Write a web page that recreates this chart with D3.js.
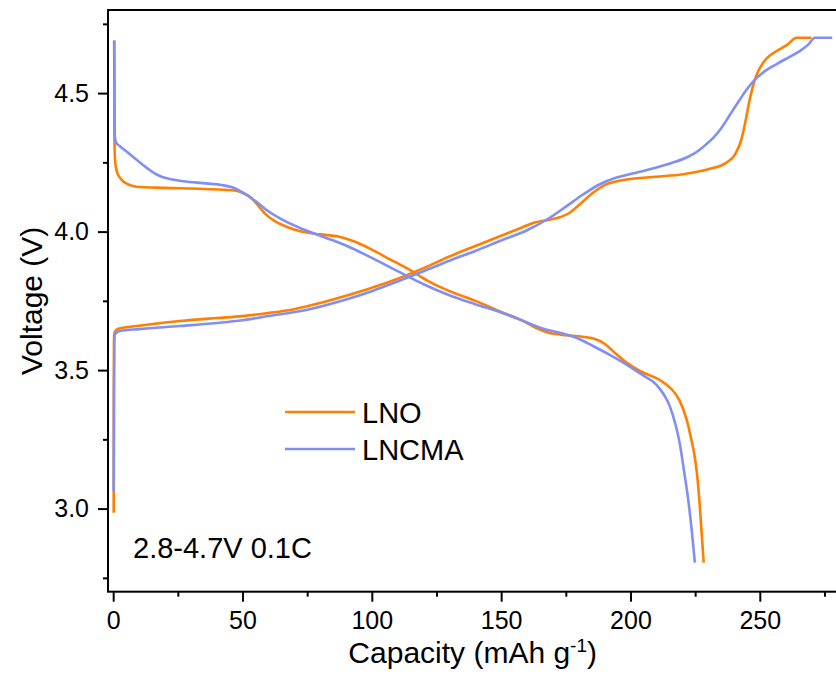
<!DOCTYPE html>
<html>
<head>
<meta charset="utf-8">
<script src="https://cdn.jsdelivr.net/npm/d3@7"></script>
<style>
  body { margin: 0; background: #fff; }
  svg { display: block; font-family: "Liberation Sans", Arial, sans-serif; }
</style>
</head>
<body>
<svg id="chart"></svg>
<script>
// capacity (mAh/g), voltage (V)
const lnoDischarge = [
  [0.4, 4.69], [0.45, 4.45], [0.5, 4.33], [0.8, 4.25], [1.5, 4.215], [3, 4.19],
  [6, 4.17], [9, 4.162], [20, 4.158], [35, 4.154], [46, 4.149], [50, 4.14],
  [53, 4.125], [56, 4.095], [59, 4.062], [63, 4.035], [68, 4.014], [72, 4.002],
  [80, 3.99], [87, 3.982], [93, 3.965], [100, 3.935], [107, 3.9], [115, 3.86],
  [122, 3.82], [130, 3.785], [140, 3.75], [150, 3.71], [158, 3.68], [164, 3.65],
  [168, 3.636], [173, 3.628], [180, 3.622], [186, 3.613], [190, 3.595],
  [194, 3.562], [198.5, 3.527], [204, 3.495], [211, 3.466], [216, 3.43],
  [219, 3.39], [221.7, 3.322], [223.5, 3.25], [225, 3.178], [226, 3.1],
  [226.8, 3.009], [227.6, 2.9], [228.3, 2.805]
];
const lncmaDischarge = [
  [0.4, 4.69], [0.5, 4.5], [0.6, 4.345], [1.2, 4.32], [2.5, 4.309], [6, 4.283],
  [10, 4.252], [13, 4.23], [16, 4.21], [19, 4.197], [23, 4.188], [27, 4.182],
  [36, 4.174], [42, 4.168], [46, 4.16], [50, 4.142], [55, 4.11], [59, 4.08],
  [65, 4.045], [72, 4.014], [80, 3.985], [90, 3.95], [100, 3.905], [110, 3.857],
  [120, 3.81], [130, 3.77], [140, 3.738], [150, 3.708], [160, 3.672], [166, 3.65],
  [172.6, 3.635], [179, 3.617], [185.5, 3.587], [192, 3.555], [198.5, 3.52],
  [205, 3.48], [210, 3.448], [213, 3.41], [215.2, 3.37], [217.5, 3.3],
  [219, 3.238], [220.8, 3.13], [222.3, 3.033], [223.7, 2.92], [224.9, 2.805]
];
const lnoCharge = [
  [0.2, 2.985], [0.25, 3.3], [0.3, 3.6], [0.5, 3.635], [1.9, 3.649], [10, 3.66],
  [25.7, 3.677], [40, 3.688], [50, 3.695], [60, 3.706], [70, 3.72], [80, 3.742],
  [90, 3.768], [100, 3.797], [110, 3.83], [120, 3.868], [130, 3.91], [140, 3.948],
  [150, 3.985], [158, 4.015], [163, 4.033], [168.8, 4.043], [172, 4.05],
  [176.5, 4.068], [180, 4.095], [185.5, 4.14], [190, 4.168], [194, 4.18],
  [198.5, 4.188], [210, 4.198], [220.3, 4.207], [230, 4.225], [237.1, 4.249],
  [240.5, 4.28], [242.9, 4.333], [244.5, 4.4], [246.1, 4.477], [248.5, 4.56],
  [251.3, 4.61], [253.8, 4.635], [256.5, 4.652], [260.3, 4.672], [264.2, 4.7],
  [270, 4.7]
];
const lncmaCharge = [
  [0.2, 3.063], [0.3, 3.4], [0.6, 3.629], [2.5, 3.641], [10, 3.648],
  [25.7, 3.659], [40, 3.67], [50, 3.68], [60, 3.695], [75, 3.718], [90, 3.755],
  [100, 3.785], [110, 3.82], [120, 3.857], [130, 3.895], [140, 3.93],
  [150, 3.968], [160, 4.005], [168.8, 4.05], [175, 4.09], [181.7, 4.134],
  [188, 4.17], [194.6, 4.195], [200, 4.208], [207.5, 4.225], [215, 4.245],
  [222.9, 4.273], [226, 4.29], [229, 4.313], [232, 4.338], [235, 4.372],
  [238, 4.415], [242.3, 4.477], [245.5, 4.52], [248.7, 4.554], [252.5, 4.583],
  [256.5, 4.605], [260, 4.623], [263, 4.638], [266, 4.655], [268.8, 4.676],
  [271.3, 4.7], [278, 4.7]
];

const seriesNames = ["LNO", "LNCMA"];
const seriesColors = ["#ff7f00", "#7f8ff5"];

const xMajorTicks = [0, 50, 100, 150, 200, 250];
const xMinorTicks = [25, 75, 125, 175, 225, 275];
const yMajorTicks = [3.0, 3.5, 4.0, 4.5];
const yMinorTicks = [2.75, 3.25, 3.75, 4.25, 4.75];

showChart();

function showChart() {
  let config = getConfig();
  let scales = getScales(config);
  drawAxes(scales, config);
  drawLines(scales, config);
  drawLegend(config);
}

function getConfig() {
  let width = 836;
  let height = 674;
  let margin = { top: 10, bottom: 82.3, left: 108, right: -1.4 };
  let bodyWidth = width - margin.left - margin.right;
  let bodyHeight = height - margin.top - margin.bottom;
  let container = d3.select("#chart").attr("width", width).attr("height", height);
  return { width, height, margin, bodyWidth, bodyHeight, container };
}

function getScales({ margin, bodyWidth, bodyHeight }) {
  let xScale = d3.scaleLinear()
    .domain([-2, 280])
    .range([margin.left, margin.left + bodyWidth]);
  let yScale = d3.scaleLinear()
    .domain([2.7, 4.8])
    .range([margin.top + bodyHeight, margin.top]);
  return { xScale, yScale };
}

function drawAxes({ xScale, yScale }, { margin, bodyWidth, bodyHeight, container }) {
  let bottom = margin.top + bodyHeight;
  let fmt = d3.format(".1f");

  let styleAxis = (g) => {
    g.select(".domain").remove();
    g.selectAll("line").attr("stroke", "#000").attr("stroke-width", 2);
    g.selectAll("text").attr("fill", "#000").style("font-size", "25px");
  };

  container.append("g")
    .attr("transform", `translate(0,${bottom})`)
    .call(d3.axisBottom(xScale).tickValues(xMajorTicks).tickSize(10).tickPadding(10))
    .call(styleAxis);
  container.append("g")
    .attr("transform", `translate(0,${bottom})`)
    .call(d3.axisBottom(xScale).tickValues(xMinorTicks).tickSize(5).tickFormat(""))
    .call(styleAxis);

  container.append("g")
    .attr("transform", `translate(${margin.left},0)`)
    .call(d3.axisLeft(yScale).tickValues(yMajorTicks).tickSize(10).tickPadding(9).tickFormat(fmt))
    .call(styleAxis);
  container.append("g")
    .attr("transform", `translate(${margin.left},0)`)
    .call(d3.axisLeft(yScale).tickValues(yMinorTicks).tickSize(5).tickFormat(""))
    .call(styleAxis);

  // frame
  container.append("rect")
    .attr("x", margin.left)
    .attr("y", margin.top)
    .attr("width", bodyWidth)
    .attr("height", bodyHeight)
    .attr("fill", "none")
    .attr("stroke", "#000")
    .attr("stroke-width", 2);

  let xTitle = container.append("text")
    .attr("x", margin.left + bodyWidth / 2)
    .attr("y", 663)
    .attr("text-anchor", "middle")
    .style("font-size", "30px");
  xTitle.append("tspan").text("Capacity (mAh g");
  xTitle.append("tspan").attr("dy", -11).style("font-size", "19px").text("-1");
  xTitle.append("tspan").attr("dy", 11).text(")");

  container.append("text")
    .attr("transform", `translate(42,${margin.top + bodyHeight / 2}) rotate(-90)`)
    .attr("text-anchor", "middle")
    .style("font-size", "30px")
    .text("Voltage (V)");

  container.append("text")
    .attr("x", 133)
    .attr("y", 558)
    .style("font-size", "29px")
    .text("2.8-4.7V 0.1C");
}

function drawLines({ xScale, yScale }, { container }) {
  let line = d3.line()
    .x((d) => xScale(d[0]))
    .y((d) => yScale(d[1]))
    .curve(d3.curveMonotoneX);

  let curves = [
    { data: lnoDischarge, color: seriesColors[0] },
    { data: lnoCharge, color: seriesColors[0] },
    { data: lncmaDischarge, color: seriesColors[1] },
    { data: lncmaCharge, color: seriesColors[1] },
  ];

  container.append("g")
    .selectAll("path")
    .data(curves)
    .enter()
    .append("path")
    .attr("d", (d) => line(d.data))
    .attr("fill", "none")
    .attr("stroke", (d) => d.color)
    .attr("stroke-width", 2.6)
    .attr("stroke-linejoin", "round");
}

function drawLegend({ container }) {
  let legend = container.append("g").attr("transform", "translate(285,412)");
  let rows = legend.selectAll("g")
    .data(seriesNames)
    .enter()
    .append("g")
    .attr("transform", (d, i) => `translate(0,${i * 37})`);
  rows.append("line")
    .attr("x1", 0)
    .attr("x2", 70)
    .attr("stroke", (d, i) => seriesColors[i])
    .attr("stroke-width", 2.6);
  rows.append("text")
    .attr("x", 77)
    .attr("y", 11)
    .style("font-size", "29px")
    .text((d) => d);
}
</script>
</body>
</html>
